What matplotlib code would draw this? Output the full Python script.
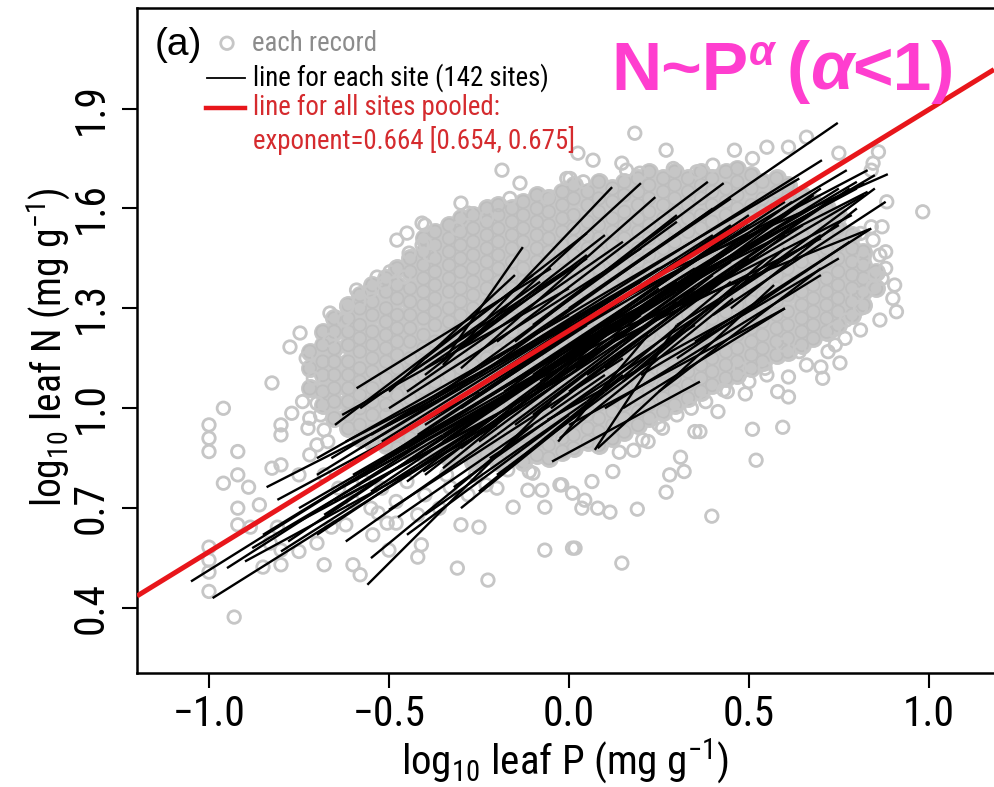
import matplotlib
matplotlib.use("Agg")
import matplotlib.pyplot as plt
from matplotlib import font_manager as fm
from matplotlib.collections import LineCollection
import numpy as np

# ---------------- data ----------------
# isolated / fringe records (log10 P, log10 N)
rec_p = [-1.00, -1.00, -1.00, -0.96, -0.93, -0.92, -0.96, -0.92, -0.89, -0.92, -0.92, -1.00, -1.00, -1.00, -1.00,
         -0.825, -0.80, -0.825, -0.80, -0.80, -0.77, -0.72, -0.70, -0.725, -0.68, -0.70, -0.67, -0.86, -0.83, -0.80,
         -0.85, -0.80, -0.75, -0.70, -0.68, -0.60, -0.58, -0.66, -0.62, -0.885, -0.81, -0.545, -0.505, -0.48, -0.50,
         -0.42, -0.41, -0.42, -0.31, -0.225, -0.30, -0.25, -0.155, -0.067, -0.067, 0.01, -0.114, -0.075, -0.025, -0.23,
         -0.17, -0.11, -0.33, -0.53,
         0.017, 0.147, 0.397, 0.19, 0.114, 0.08, 0.036, 0.27, 0.28, 0.32, 0.31, 0.52, 0.51, 0.594, 0.35, 0.122, 0.064,
         -0.02, 0.01, 0.044, -0.10, 0.14, 0.18, 0.205, 0.25,
         0.414, 0.49, 0.58, 0.61, 0.61, 0.545, 0.43, 0.364, 0.705, 0.70, 0.753, 0.72, 0.64, 0.81, 0.767, 0.864, 0.91,
         0.905, 0.81, 0.77, 0.735, 0.845, 0.80, 0.594, 0.475,
         0.983, 0.883, 0.84, 0.87, 0.845, 0.864, 0.81, 0.86, 0.845, 0.75, 0.66, 0.55, 0.61, 0.46, 0.51, 0.27, 0.183,
         0.067, 0.147, 0.29, 0.355, 0.40, 0.003, 0.84, 0.88, 0.85, 0.82, 0.90,
         -0.747, -0.664, -0.625, -0.583, -0.553, -0.514, -0.497, -0.478, -0.45, -0.408, -0.408, -0.444, -0.458, -0.533,
         -0.59, -0.617, -0.664, -0.775,
         -0.186, 0.025, -0.006, 0.04, -0.06, -0.164, -0.30, -0.40, -0.40, -0.386, -0.31, -0.28, -0.228, 0.16, 0.197,
         -0.136,
         -0.75, -0.72, -0.68, -0.64, -0.60, -0.57, -0.55, -0.52, -0.48, -0.45, -0.40, -0.36, -0.34, -0.28, -0.26, -0.20,
         0.22, 0.26, 0.30, 0.34, 0.38, 0.44, 0.50, 0.55, 0.66, 0.74,
         -0.74, -0.73, -0.71, -0.69, 0.87, 0.88]
rec_n = [0.95, 0.91, 0.87, 1.00, 0.373, 0.87, 0.775, 0.80, 0.763, 0.70, 0.65, 0.583, 0.544, 0.508, 0.45,
         0.82, 0.83, 1.076, 0.95, 0.92, 0.985, 0.97, 1.015, 0.94, 0.935, 0.89, 0.90, 0.71, 0.595, 0.574,
         0.523, 0.53, 0.57, 0.595, 0.53, 0.53, 0.50, 0.643, 0.65, 0.643, 0.643, 0.62, 0.655, 0.655, 0.574,
         0.553, 0.59, 0.68, 0.52, 0.484, 0.65, 0.643, 0.703, 0.703, 0.574, 0.58, 0.754, 0.754, 0.77, 0.77,
         0.815, 0.81, 0.763, 0.685,
         0.58, 0.535, 0.676, 0.697, 0.688, 0.70, 0.70, 0.748, 0.80, 0.81, 0.853, 0.844, 0.937, 0.943, 0.93, 0.81, 0.78,
         0.77, 0.745, 0.724, 0.805, 0.868, 0.874, 0.905, 0.95,
         0.99, 1.043, 1.05, 1.034, 1.094, 1.12, 1.055, 0.93, 1.09, 1.124, 1.136, 1.17, 1.17, 1.235, 1.21, 1.265, 1.29,
         1.37, 1.30, 1.265, 1.235, 1.364, 1.34, 1.19, 1.12,
         1.59, 1.62, 1.545, 1.545, 1.505, 1.46, 1.525, 1.77, 1.736, 1.766, 1.814, 1.784, 1.784, 1.775, 1.75, 1.775, 1.826,
         1.745, 1.736, 1.72, 1.71, 1.73, 1.69, 1.715, 1.42, 1.40, 1.45, 1.33,
         1.226, 1.286, 1.265, 1.32, 1.35, 1.376, 1.41, 1.505, 1.526, 1.556, 1.49, 1.466, 1.394, 1.394,
         1.355, 1.304, 1.205, 1.184,
         1.715, 1.766, 1.69, 1.68, 1.634, 1.63, 1.616, 1.55, 1.496, 1.46, 1.54, 1.586, 1.574, 1.715, 1.706,
         1.676,
         0.80, 0.86, 0.80, 0.76, 0.72, 0.78, 0.70, 0.76, 0.72, 0.78, 0.74, 0.70, 0.80, 0.74, 0.80, 0.76,
         0.90, 0.94, 0.98, 1.00, 1.02, 1.05, 1.08, 1.10, 1.13, 1.19,
         1.02, 1.15, 1.09, 0.98, 1.39, 1.47]

# dense core of records: one P value per column and the N values read in that column
core_p = [-0.720, -0.684, -0.652, -0.613, -0.581, -0.546, -0.508, -0.477, -0.441, -0.404, -0.372, -0.333,
          -0.301, -0.266, -0.228, -0.196, -0.158, -0.127, -0.089, -0.056, -0.018, 0.013, 0.052, 0.083,
          0.121, 0.154, 0.192, 0.223, 0.262, 0.294, 0.331, 0.367, 0.398, 0.436, 0.468, 0.507, 0.538,
          0.577, 0.608, 0.647, 0.679, 0.716, 0.748, 0.787, 0.818, 0.853]
core_n = [
    [1.06, 1.12, 1.17],
    [1.01, 1.05, 1.10, 1.14, 1.19, 1.23],
    [0.97, 1.02, 1.06, 1.10, 1.14, 1.18, 1.23, 1.27],
    [0.94, 0.98, 1.02, 1.06, 1.10, 1.14, 1.19, 1.23, 1.27, 1.31],
    [0.91, 0.95, 1.00, 1.04, 1.08, 1.12, 1.17, 1.21, 1.25, 1.30, 1.34],
    [0.90, 0.93, 0.98, 1.02, 1.06, 1.11, 1.15, 1.19, 1.23, 1.28, 1.32, 1.37],
    [0.89, 0.94, 0.98, 1.01, 1.05, 1.09, 1.14, 1.18, 1.22, 1.26, 1.30, 1.35, 1.39],
    [0.88, 0.92, 0.96, 1.00, 1.04, 1.08, 1.12, 1.16, 1.20, 1.24, 1.28, 1.33, 1.37, 1.42],
    [0.87, 0.91, 0.95, 0.99, 1.03, 1.07, 1.11, 1.15, 1.20, 1.24, 1.28, 1.32, 1.36, 1.41, 1.45],
    [0.86, 0.90, 0.94, 0.98, 1.02, 1.06, 1.10, 1.14, 1.18, 1.22, 1.27, 1.31, 1.35, 1.39, 1.43, 1.47, 1.51],
    [0.88, 0.92, 0.96, 1.00, 1.04, 1.08, 1.12, 1.16, 1.20, 1.25, 1.29, 1.33, 1.37, 1.41, 1.45, 1.49, 1.53],
    [0.85, 0.89, 0.93, 0.97, 1.01, 1.05, 1.10, 1.14, 1.18, 1.22, 1.26, 1.30, 1.35, 1.39, 1.43, 1.47, 1.51, 1.55],
    [0.87, 0.91, 0.95, 0.99, 1.03, 1.07, 1.12, 1.16, 1.20, 1.24, 1.28, 1.32, 1.36, 1.41, 1.45, 1.49, 1.53, 1.57],
    [0.84, 0.88, 0.92, 0.96, 1.00, 1.05, 1.09, 1.13, 1.17, 1.21, 1.26, 1.30, 1.34, 1.38, 1.42, 1.46, 1.50, 1.54, 1.58],
    [0.86, 0.90, 0.94, 0.98, 1.02, 1.07, 1.11, 1.15, 1.19, 1.23, 1.27, 1.31, 1.36, 1.40, 1.44, 1.48, 1.52, 1.56, 1.60],
    [0.84, 0.88, 0.92, 0.96, 1.01, 1.05, 1.09, 1.13, 1.17, 1.21, 1.25, 1.29, 1.34, 1.38, 1.42, 1.46, 1.50, 1.54, 1.58, 1.61],
    [0.86, 0.90, 0.94, 0.98, 1.03, 1.07, 1.11, 1.15, 1.19, 1.23, 1.27, 1.32, 1.36, 1.40, 1.44, 1.48, 1.52, 1.56, 1.60],
    [0.84, 0.88, 0.92, 0.96, 1.00, 1.05, 1.09, 1.13, 1.17, 1.21, 1.25, 1.30, 1.34, 1.38, 1.42, 1.46, 1.50, 1.54, 1.58, 1.62],
    [0.86, 0.90, 0.94, 0.98, 1.02, 1.06, 1.11, 1.15, 1.19, 1.23, 1.27, 1.32, 1.36, 1.40, 1.44, 1.48, 1.52, 1.56, 1.60, 1.64],
    [0.85, 0.89, 0.93, 0.97, 1.01, 1.05, 1.09, 1.13, 1.18, 1.22, 1.26, 1.30, 1.34, 1.38, 1.43, 1.47, 1.51, 1.55, 1.59, 1.63],
    [0.87, 0.91, 0.95, 0.99, 1.03, 1.07, 1.11, 1.16, 1.20, 1.24, 1.28, 1.32, 1.36, 1.41, 1.45, 1.49, 1.53, 1.57, 1.61, 1.65],
    [0.88, 0.92, 0.96, 1.00, 1.04, 1.09, 1.13, 1.17, 1.21, 1.25, 1.29, 1.34, 1.38, 1.42, 1.46, 1.50, 1.54, 1.58, 1.63, 1.67],
    [0.90, 0.94, 0.98, 1.02, 1.06, 1.10, 1.15, 1.19, 1.23, 1.27, 1.31, 1.35, 1.40, 1.44, 1.48, 1.52, 1.56, 1.61, 1.65],
    [0.89, 0.93, 0.97, 1.01, 1.05, 1.09, 1.13, 1.17, 1.22, 1.26, 1.30, 1.34, 1.38, 1.42, 1.47, 1.51, 1.55, 1.59, 1.63, 1.68],
    [0.91, 0.95, 0.99, 1.03, 1.07, 1.12, 1.16, 1.20, 1.24, 1.28, 1.32, 1.37, 1.41, 1.45, 1.49, 1.53, 1.57, 1.62, 1.66],
    [0.93, 0.97, 1.01, 1.05, 1.09, 1.13, 1.18, 1.22, 1.26, 1.30, 1.34, 1.39, 1.43, 1.47, 1.51, 1.55, 1.59, 1.64, 1.68],
    [0.95, 0.99, 1.03, 1.07, 1.11, 1.15, 1.19, 1.24, 1.28, 1.32, 1.36, 1.40, 1.44, 1.48, 1.53, 1.57, 1.61, 1.65, 1.69],
    [0.97, 1.01, 1.05, 1.09, 1.13, 1.17, 1.22, 1.26, 1.30, 1.34, 1.38, 1.42, 1.46, 1.51, 1.55, 1.59, 1.63, 1.67, 1.71],
    [0.99, 1.03, 1.07, 1.11, 1.15, 1.19, 1.23, 1.28, 1.32, 1.36, 1.40, 1.44, 1.48, 1.52, 1.57, 1.61, 1.65, 1.69],
    [1.01, 1.05, 1.09, 1.13, 1.17, 1.21, 1.25, 1.30, 1.34, 1.38, 1.42, 1.46, 1.50, 1.54, 1.59, 1.63, 1.67, 1.71],
    [1.03, 1.07, 1.11, 1.15, 1.19, 1.24, 1.28, 1.32, 1.36, 1.40, 1.44, 1.48, 1.53, 1.57, 1.61, 1.65, 1.69],
    [1.05, 1.09, 1.13, 1.17, 1.21, 1.25, 1.29, 1.34, 1.38, 1.42, 1.46, 1.50, 1.54, 1.58, 1.63, 1.67, 1.71],
    [1.07, 1.11, 1.15, 1.19, 1.23, 1.27, 1.31, 1.36, 1.40, 1.44, 1.48, 1.52, 1.56, 1.61, 1.65, 1.69],
    [1.09, 1.13, 1.17, 1.21, 1.25, 1.29, 1.33, 1.37, 1.42, 1.46, 1.50, 1.54, 1.58, 1.62, 1.66, 1.71],
    [1.10, 1.14, 1.18, 1.22, 1.26, 1.31, 1.35, 1.39, 1.43, 1.47, 1.51, 1.55, 1.60, 1.64, 1.68, 1.72],
    [1.12, 1.16, 1.20, 1.24, 1.28, 1.32, 1.37, 1.41, 1.45, 1.49, 1.53, 1.57, 1.61, 1.66, 1.70],
    [1.14, 1.18, 1.22, 1.26, 1.30, 1.34, 1.38, 1.43, 1.47, 1.51, 1.55, 1.59, 1.63, 1.68],
    [1.16, 1.20, 1.24, 1.28, 1.32, 1.36, 1.40, 1.44, 1.49, 1.53, 1.57, 1.61, 1.65, 1.69],
    [1.17, 1.21, 1.25, 1.29, 1.34, 1.38, 1.42, 1.46, 1.50, 1.54, 1.58, 1.63, 1.67],
    [1.19, 1.23, 1.27, 1.31, 1.35, 1.39, 1.44, 1.48, 1.52, 1.56, 1.60, 1.64],
    [1.21, 1.25, 1.29, 1.33, 1.37, 1.41, 1.45, 1.50, 1.54, 1.58, 1.62],
    [1.23, 1.27, 1.31, 1.35, 1.39, 1.44, 1.48, 1.52, 1.56, 1.60],
    [1.25, 1.29, 1.33, 1.37, 1.41, 1.45, 1.49, 1.54, 1.58],
    [1.28, 1.32, 1.36, 1.40, 1.44, 1.48, 1.52],
    [1.31, 1.35, 1.39, 1.43, 1.47],
    [1.36, 1.41],
]

# per-site fitted lines (142 sites): start/end P and N
site_p0 = [-1.05, -0.99, -0.90, -0.84, -0.81, -0.56, -0.50, -0.475, -0.63, -0.59, -0.405, -0.32, -0.06, -0.03,
           -0.047, -0.025, 0.072, 0.08, 0.00, -0.10, 0.00, 0.10, 0.25, 0.00, 0.10, -0.05, 0.10, -0.10, -0.05,
           -0.35, -0.30, -0.30, -0.20, -0.10, -0.35, -0.40, -0.85, -0.80, -0.70, -0.66, -0.65, -0.75, -0.62,
           -0.60, -0.55, -0.50, -0.45, -0.40, -0.35, -0.30, -0.25, -0.20, -0.15, -0.10, -0.05, 0.00, 0.05, 0.10,
           -0.55, -0.50, -0.45, -0.40, -0.35, -0.30, -0.25, -0.20, -0.15, -0.10, 0.00, 0.05, 0.10, 0.15,
           -0.60, -0.65, -0.55, -0.45, -0.40, -0.35, -0.30, -0.25, -0.20, -0.15, -0.10, -0.05, 0.05, 0.10,
           0.15, 0.20, 0.25, 0.30, -0.50, -0.45, -0.40, -0.35, -0.25, -0.20, -0.15, 0.20, 0.30, 0.35,
           0.00, 0.10, 0.20, 0.15, 0.25, 0.30, 0.35, 0.40, 0.45, 0.50,
           -0.88, -0.95, -0.78, -0.70, -0.68, -0.75, -0.62, -0.55, -0.45, -0.40, -0.30, -0.25, -0.20,
           -0.65, -0.58, -0.50, -0.45, -0.40, -0.30, -0.70, -0.58, -0.52, -0.42, -0.38, -0.28, -0.18,
           -0.08, 0.02, 0.12, 0.22, 0.32, -0.22]
site_p1 = [-0.25, -0.15, -0.20, -0.30, -0.25, -0.05, 0.15, 0.10, 0.00, -0.05, 0.20, 0.25, 0.50, 0.22,
           0.364, 0.456, 0.30, 0.57, 0.747, 0.703, 0.772, 0.83, 0.886, 0.82, 0.83, 0.786, 0.836, 0.70, 0.64,
           0.12, 0.20, 0.24, 0.386, 0.43, -0.128, 0.05, -0.20, -0.10, -0.10, -0.05, 0.00, -0.20, 0.10,
           0.20, 0.20, 0.30, 0.35, 0.40, 0.45, 0.50, 0.55, 0.60, 0.50, 0.55, 0.60, 0.65, 0.70, 0.75,
           0.10, 0.05, 0.20, 0.25, 0.30, 0.35, 0.30, 0.40, 0.45, 0.35, 0.50, 0.55, 0.60, 0.65,
           -0.05, -0.10, 0.00, 0.05, 0.10, 0.15, 0.20, 0.25, 0.30, 0.35, 0.40, 0.45, 0.45, 0.50,
           0.55, 0.60, 0.70, 0.75, 0.20, 0.15, 0.10, 0.30, 0.40, 0.45, 0.30, 0.80, 0.85, 0.80,
           0.60, 0.70, 0.75, 0.60, 0.70, 0.78, 0.84, 0.88, 0.80, 0.85,
           -0.35, -0.40, -0.30, -0.20, -0.15, -0.35, -0.20, -0.10, 0.00, 0.05, 0.10, 0.15, 0.20,
           -0.10, -0.08, -0.15, 0.00, 0.05, 0.05, 0.00, 0.15, 0.25, 0.30, 0.40, 0.45, 0.55,
           0.62, 0.68, 0.72, 0.78, 0.82, 0.35]
site_n0 = [0.48, 0.43, 0.54, 0.763, 0.725, 0.47, 0.695, 0.673, 0.98, 1.06, 0.81, 0.763, 0.965, 0.90,
           0.84, 0.91, 0.875, 0.88, 1.30, 1.20, 1.22, 1.30, 1.40, 1.18, 1.25, 1.12, 1.22, 1.08, 1.25,
           1.13, 1.18, 1.12, 1.20, 1.25, 1.14, 1.15, 0.62, 0.57, 0.80, 0.85, 0.72, 0.66, 0.90,
           0.80, 0.92, 0.95, 0.88, 0.95, 0.92, 1.00, 1.02, 1.05, 1.08, 1.10, 1.12, 1.15, 1.18, 1.22,
           0.82, 0.86, 0.84, 0.86, 0.90, 0.95, 0.98, 0.96, 1.00, 1.05, 1.05, 1.10, 1.12, 1.20,
           0.78, 0.75, 0.75, 0.78, 0.80, 0.82, 0.88, 0.90, 0.92, 0.95, 0.98, 1.00, 1.02, 1.05,
           1.08, 1.12, 1.20, 1.25, 1.00, 1.05, 1.10, 1.05, 1.10, 1.15, 1.20, 1.30, 1.35, 1.40,
           0.95, 1.00, 1.10, 1.00, 1.05, 1.15, 1.20, 1.28, 1.30, 1.38,
           0.58, 0.52, 0.60, 0.62, 0.68, 0.70, 0.60, 0.55, 0.62, 0.68, 0.70, 0.75, 0.80,
           0.95, 1.00, 1.05, 1.10, 1.12, 1.18, 0.85, 0.88, 0.90, 0.92, 0.98, 1.02, 1.05,
           1.08, 1.12, 1.18, 1.25, 1.32, 0.85]
site_n1 = [1.02, 1.00, 0.95, 1.06, 1.05, 1.02, 1.15, 1.10, 1.36, 1.42, 1.24, 1.20, 1.30, 1.22,
           1.08, 1.33, 1.25, 1.37, 1.857, 1.745, 1.715, 1.715, 1.703, 1.676, 1.65, 1.58, 1.538, 1.51, 1.69,
           1.664, 1.676, 1.634, 1.68, 1.676, 1.484, 1.526, 1.05, 1.05, 1.20, 1.25, 1.10, 0.98, 1.30,
           1.30, 1.38, 1.45, 1.42, 1.50, 1.48, 1.58, 1.55, 1.62, 1.55, 1.60, 1.58, 1.62, 1.66, 1.66,
           1.22, 1.25, 1.30, 1.36, 1.38, 1.40, 1.35, 1.42, 1.44, 1.36, 1.45, 1.48, 1.52, 1.55,
           1.12, 1.08, 1.15, 1.18, 1.22, 1.26, 1.28, 1.30, 1.32, 1.35, 1.40, 1.42, 1.38, 1.40,
           1.45, 1.48, 1.52, 1.55, 1.48, 1.50, 1.52, 1.56, 1.60, 1.63, 1.58, 1.68, 1.70, 1.66,
           1.30, 1.40, 1.45, 1.30, 1.42, 1.50, 1.54, 1.62, 1.60, 1.66,
           0.92, 0.90, 0.95, 0.98, 1.05, 0.95, 0.92, 0.95, 0.98, 1.02, 1.05, 1.10, 1.12,
           1.40, 1.38, 1.40, 1.42, 1.45, 1.46, 1.28, 1.35, 1.42, 1.44, 1.52, 1.55, 1.60,
           1.62, 1.64, 1.62, 1.66, 1.64, 1.25]

# pooled fit
pooled_slope = 0.664
pooled_intercept = 1.233

x_ticks = [-1.0, -0.5, 0.0, 0.5, 1.0]
x_ticklabels = ["\u22121.0", "\u22120.5", "0.0", "0.5", "1.0"]
y_ticks = [0.4, 0.7, 1.0, 1.3, 1.6, 1.9]
y_ticklabels = ["0.4", "0.7", "1.0", "1.3", "1.6", "1.9"]

# ---------------- fonts ----------------
names = {f.name for f in fm.fontManager.ttflist}
NARROW = None
for cand in ["Liberation Sans Narrow", "Arial Narrow", "Roboto Condensed", "Open Sans Condensed"]:
    if cand in names:
        NARROW = cand
        break
SCALE = 1.0
if NARROW is None:
    NARROW = "Liberation Sans"
    SCALE = 0.84
REG = "Liberation Sans"

plt.rcParams["font.family"] = [NARROW, "DejaVu Sans"]
plt.rcParams["mathtext.fontset"] = "custom"
plt.rcParams["mathtext.rm"] = NARROW
plt.rcParams["mathtext.it"] = NARROW + ":italic"
plt.rcParams["mathtext.bf"] = NARROW + ":bold"

GRAY = "#C6C6C6"
RED = "#E8161B"
PINK = "#FF3ECF"

# ---------------- figure ----------------
fig = plt.figure(figsize=(9.94, 7.87), dpi=100)
ax = fig.add_axes([137 / 994, 1 - 673 / 787, (994 - 137) / 994, (673 - 8) / 787])
ax.set_xlim(-1.2, 1.181)
ax.set_ylim(0.205, 2.202)

# records: the dense core overlaps so heavily that it reads as solid grey
cp = [p for p, ys in zip(core_p, core_n) for _ in ys]
cn = [y for ys in core_n for y in ys]
ax.scatter(cp, cn, s=135, facecolors=GRAY, edgecolors=GRAY, linewidths=2.0, zorder=1)
ax.scatter(cp, cn, s=81, facecolors="none", edgecolors="#BDBDBD", linewidths=1.2, zorder=1)
ax.scatter(rec_p, rec_n, s=81, facecolors="none", edgecolors=GRAY, linewidths=2.0, zorder=1)

# site lines
segs = [[(a, c), (b, d)] for a, b, c, d in zip(site_p0, site_p1, site_n0, site_n1)]
ax.add_collection(LineCollection(segs, colors="black", linewidths=1.7, zorder=2))

# pooled line
xx = np.array(ax.get_xlim())
ax.plot(xx, pooled_intercept + pooled_slope * xx, color=RED, lw=3.6, zorder=3, solid_capstyle="butt")

# axes styling
for s in ["left", "bottom", "top"]:
    ax.spines[s].set_linewidth(1.8)
ax.spines["right"].set_visible(False)
ax.set_xticks(x_ticks)
ax.set_xticklabels(x_ticklabels)
ax.set_yticks(y_ticks)
ax.set_yticklabels(y_ticklabels, rotation=90, va="center")
ax.tick_params(axis="both", direction="out", length=11, width=1.5, labelsize=30 * SCALE)
ax.tick_params(axis="x", pad=4)
ax.tick_params(axis="y", pad=7)

ax.set_xlabel(r"log$_{10}$ leaf P (mg g$^{-1}$)", fontsize=29.5 * SCALE, va="center")
ax.xaxis.set_label_coords(0.5, -0.132)
ax.set_ylabel(r"log$_{10}$ leaf N (mg g$^{-1}$)", fontsize=28.5 * SCALE, va="center")
ax.yaxis.set_label_coords(-0.103, 0.49)

# legend block
T = ax.transAxes
ax.text(0.020, 0.944, "(a)", transform=T, fontsize=28, family=REG, va="center", ha="left")
ax.scatter([0.105], [0.947], transform=T, s=81, facecolors="none", edgecolors=GRAY, linewidths=2.0, zorder=5)
ax.plot([0.0817, 0.126], [0.895, 0.895], transform=T, color="black", lw=1.3, zorder=5)
ax.plot([0.0805, 0.126], [0.850, 0.850], transform=T, color=RED, lw=3.2, zorder=5)
fs_leg = 19.4 * SCALE
ax.text(0.134, 0.947, "each record", transform=T, fontsize=fs_leg, color="#8C8C8C", va="center", ha="left")
ax.text(0.135, 0.895, "line for each site (142 sites)", transform=T, fontsize=fs_leg, color="black",
        va="center", ha="left")
ax.text(0.135, 0.850, "line for all sites pooled:", transform=T, fontsize=fs_leg, color="#D52B2E",
        va="center", ha="left")
ax.text(0.135, 0.8015, "exponent=0.664 [0.654, 0.675]", transform=T, fontsize=fs_leg, color="#D52B2E",
        va="center", ha="left")

# pink annotation
ax.text(0.554, 0.877, "N~P", transform=T, fontsize=50, family=REG, weight="bold", color=PINK,
        va="baseline", ha="left", zorder=6)
ax.text(0.714, 0.914, "\u03b1", transform=T, fontsize=30, family=REG, weight="bold", style="italic",
        color=PINK, va="baseline", ha="left", zorder=6)
ax.text(0.758, 0.877, "(", transform=T, fontsize=50, family=REG, weight="bold", color=PINK,
        va="baseline", ha="left", zorder=6)
ax.text(0.785, 0.877, "\u03b1", transform=T, fontsize=50, family=REG, weight="bold", style="italic",
        color=PINK, va="baseline", ha="left", zorder=6)
ax.text(0.834, 0.877, "<1)", transform=T, fontsize=50, family=REG, weight="bold", color=PINK,
        va="baseline", ha="left", zorder=6)

fig.savefig("out.png", dpi=100)
